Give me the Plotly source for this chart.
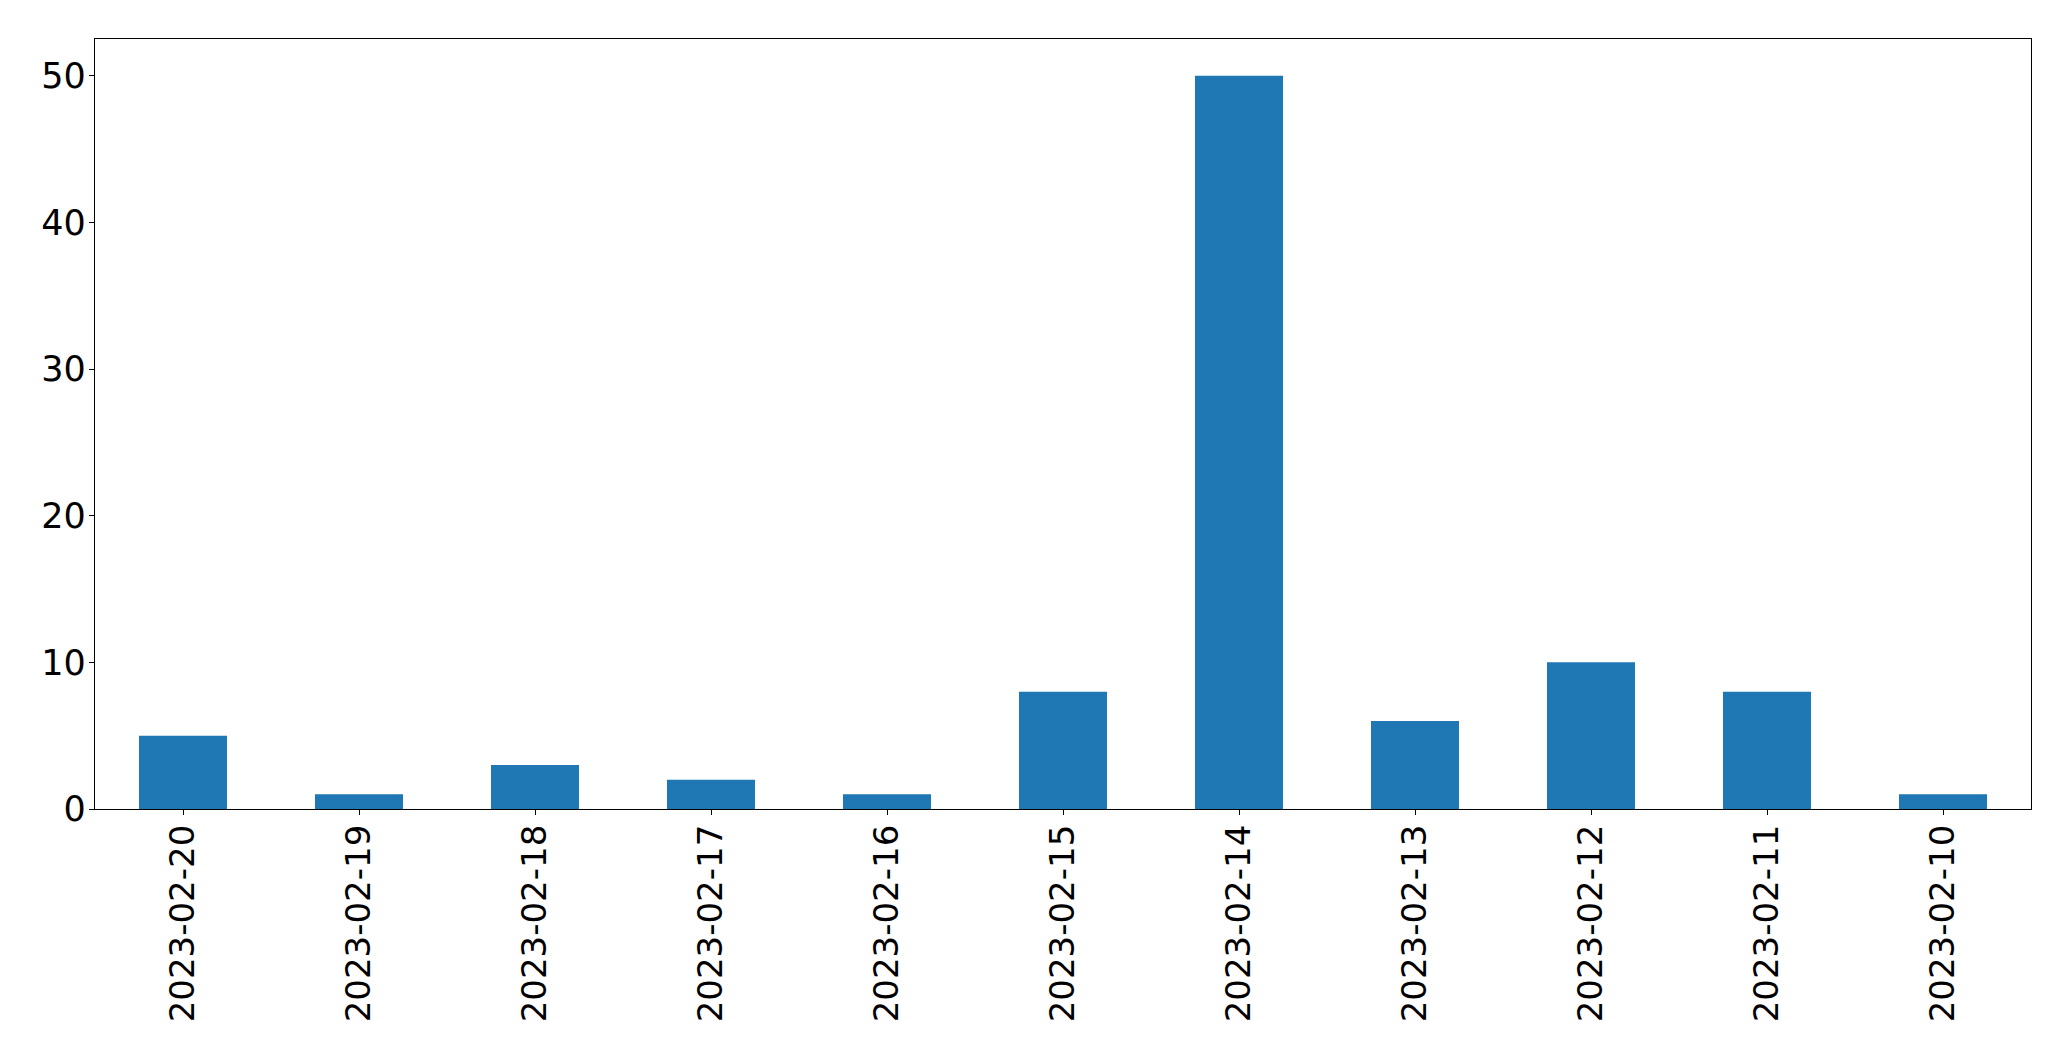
import plotly.graph_objects as go

dates = ["2023-02-20", "2023-02-19", "2023-02-18", "2023-02-17", "2023-02-16",
         "2023-02-15", "2023-02-14", "2023-02-13", "2023-02-12", "2023-02-11", "2023-02-10"]
counts = [5, 1, 3, 2, 1, 8, 50, 6, 10, 8, 1]
y_ticks = [0, 10, 20, 30, 40, 50]

fig = go.Figure(go.Bar(x=dates, y=counts, width=0.5, marker_color="#1f77b4",
                       marker_line_width=0))

yfont = dict(family="DejaVu Sans", size=35, color="black")
xfont = dict(family="DejaVu Sans", size=34, color="black")
# page body has an 8px margin; compensate so the plot box lands where the reference has it
fig.update_layout(
    width=2071, height=1061,
    margin=dict(l=87, r=48, t=31, b=260, autoexpand=False),
    paper_bgcolor="white", plot_bgcolor="white",
    showlegend=False,
    font=yfont,
)
fig.update_xaxes(type="category", range=[-0.5, 10.5], tickangle=-90,
                 showline=True, linecolor="black", linewidth=1.3, mirror=True,
                 ticks="outside", ticklen=5, tickwidth=1.3, tickcolor="black",
                 showgrid=False, zeroline=False, tickfont=xfont, ticklabelstandoff=-4,
                 automargin=False)
fig.update_yaxes(range=[0, 52.5], tickvals=y_ticks,
                 showline=True, linecolor="black", linewidth=1.3, mirror=True,
                 ticks="outside", ticklen=5, tickwidth=1.3, tickcolor="black",
                 showgrid=False, zeroline=False, tickfont=yfont, ticklabelstandoff=-4,
                 automargin=False)

fig.write_html("out.html")
